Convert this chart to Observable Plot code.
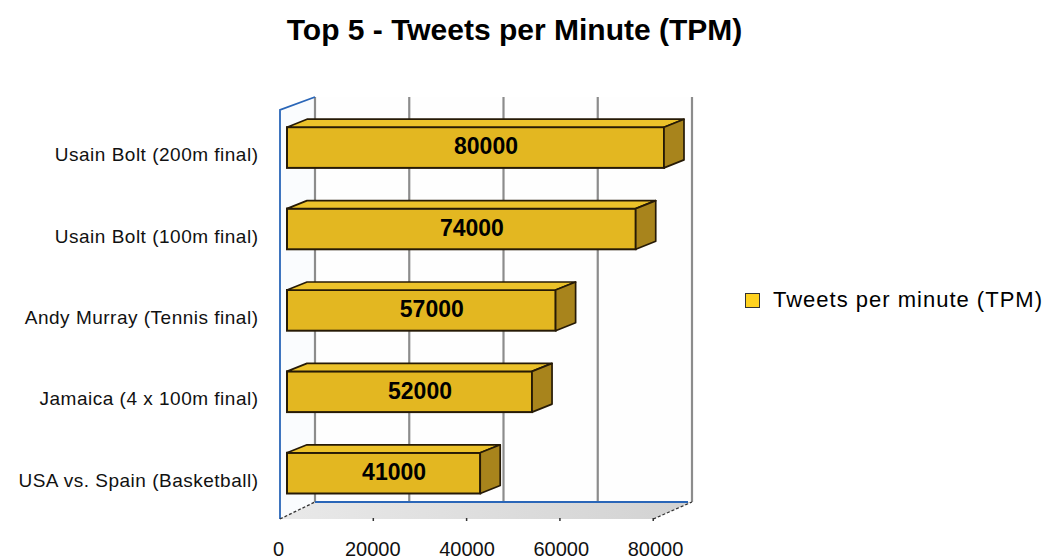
<!DOCTYPE html>
<html>
<head>
<meta charset="utf-8">
<script src="https://cdn.jsdelivr.net/npm/d3@7"></script>
<script src="https://cdn.jsdelivr.net/npm/@observablehq/plot@0.6"></script>
<style>
  body { margin: 0; background: #fff; font-family: "Liberation Sans", Arial, sans-serif; }
  #wrap { position: relative; width: 1058px; height: 559px; overflow: hidden; }
  #chart { position: absolute; left: 0; top: 0; }
  #title { position: absolute; left: 0; width: 1029px; top: 15px; text-align: center;
           font-size: 30px; line-height: 30px; font-weight: bold; color: #000; }
  #legend { position: absolute; left: 745px; top: 289px; display: flex; align-items: center;
            font-size: 22px; line-height: 22px; letter-spacing: 1px; color: #000; }
  #legend .swatch { width: 13px; height: 13px; background: #ffd21f; border: 1px solid #333;
                    margin-right: 13px; }
</style>
</head>
<body>
<div id="wrap">
  <div id="title"></div>
  <div id="chart"></div>
  <div id="legend"></div>
</div>
<script>
// Olympic moments by peak tweets per minute
const events = [
  "Usain Bolt (200m final)",
  "Usain Bolt (100m final)",
  "Andy Murray (Tennis final)",
  "Jamaica (4 x 100m final)",
  "USA vs. Spain (Basketball)"
];
const tpm = [80000, 74000, 57000, 52000, 41000];
const xTicks = [0, 20000, 40000, 60000, 80000];
const seriesName = "Tweets per minute (TPM)";
const titleText = "Top 5 - Tweets per Minute (TPM)";

const rows = events.map((event, i) => ({event, tpm: tpm[i]}));

const colors = {
  front: "#e3b721",
  top: "#ecc22a",
  side: "#a8841c",
  edge: "#261a06",
  grid: "#8c8c8c",
  wall: "#2a66b8"
};

// Box-room geometry: the back wall sits behind the bars, the floor in front.
const room3d = {backDx: 28, wallTop: 97, floorBack: 502, floorFront: 519, leftTop: 110};

function room(index, {x}) {
  const g = d3.create("svg:g");
  const lo = xTicks[0], hi = xTicks[xTicks.length - 1];
  const x0 = x(lo);
  const bx = v => x(v) + room3d.backDx;                       // back-wall plane
  const fx = v => x0 - 7 + (x(v) - x0) * 0.99;                 // floor front edge
  const L = fx(lo);

  // left wall
  g.append("polygon")
    .attr("points", [[L, room3d.leftTop], [bx(lo), room3d.wallTop], [bx(lo), room3d.floorBack], [L, room3d.floorFront]].join(" "))
    .attr("fill", "#fafcfe");
  // back wall
  g.append("rect")
    .attr("x", bx(lo)).attr("y", room3d.wallTop)
    .attr("width", bx(hi) - bx(lo))
    .attr("height", room3d.floorBack - room3d.wallTop)
    .attr("fill", "#fefefe");
  // floor
  const grad = g.append("defs").append("linearGradient")
    .attr("id", "floorShade").attr("x1", 0).attr("y1", 0).attr("x2", 1).attr("y2", 0);
  grad.append("stop").attr("offset", "0").attr("stop-color", "#e9e9e9");
  grad.append("stop").attr("offset", "1").attr("stop-color", "#d2d2d2");
  g.append("polygon")
    .attr("points", [[L, room3d.floorFront], [fx(hi), room3d.floorFront],
                     [bx(hi), room3d.floorBack], [bx(lo), room3d.floorBack]].join(" "))
    .attr("fill", "url(#floorShade)");
  // gridlines on the back wall
  for (const t of xTicks) {
    g.append("line")
      .attr("x1", bx(t)).attr("x2", bx(t))
      .attr("y1", room3d.wallTop).attr("y2", room3d.floorBack)
      .attr("stroke", colors.grid).attr("stroke-width", 2.2);
  }
  // blue wall edges
  g.append("polyline")
    .attr("points", [[L, room3d.floorFront], [L, room3d.leftTop], [bx(lo), room3d.wallTop]].join(" "))
    .attr("fill", "none").attr("stroke", colors.wall).attr("stroke-width", 1.8);
  g.append("line")
    .attr("x1", bx(lo)).attr("x2", bx(hi) - 4)
    .attr("y1", room3d.floorBack).attr("y2", room3d.floorBack)
    .attr("stroke", colors.wall).attr("stroke-width", 2);
  // dashed floor sides
  for (const t of [lo, hi]) {
    g.append("line")
      .attr("x1", fx(t)).attr("y1", room3d.floorFront)
      .attr("x2", bx(t)).attr("y2", room3d.floorBack)
      .attr("stroke", "#333").attr("stroke-width", 1.3).attr("stroke-dasharray", "3 2");
  }
  // small ticks on the floor front edge
  for (const t of xTicks.slice(1)) {
    g.append("line")
      .attr("x1", fx(t)).attr("x2", fx(t))
      .attr("y1", room3d.floorFront - 1).attr("y2", room3d.floorFront + 2)
      .attr("stroke", "#333").attr("stroke-width", 1.5);
  }
  return g.node();
}

// Turns each flat bar into an extruded box (front, top and right faces).
function extrude(index, scales, values, dimensions, context, next) {
  const g = next(index, scales, values, dimensions, context);
  const dx = 20, dy = 8;
  const sel = d3.select(g);
  for (const rect of g.querySelectorAll("rect")) {
    const x = +rect.getAttribute("x"), y = +rect.getAttribute("y");
    const w = +rect.getAttribute("width"), h = +rect.getAttribute("height");
    sel.append("polygon")
      .attr("points", [[x, y], [x + w, y], [x + w + dx, y - dy], [x + dx, y - dy]].join(" "))
      .attr("fill", colors.top).attr("stroke", colors.edge).attr("stroke-width", 1.7)
      .attr("stroke-linejoin", "round");
    sel.append("polygon")
      .attr("points", [[x + w, y], [x + w + dx, y - dy], [x + w + dx, y + h - dy], [x + w, y + h]].join(" "))
      .attr("fill", colors.side).attr("stroke", colors.edge).attr("stroke-width", 1.7)
      .attr("stroke-linejoin", "round");
  }
  return g;
}

function spaced(amount) {
  return (index, scales, values, dimensions, context, next) => {
    const g = next(index, scales, values, dimensions, context);
    g.setAttribute("letter-spacing", amount);
    return g;
  };
}

const chart = Plot.plot({
  width: 1058,
  height: 559,
  marginTop: 0, marginRight: 0, marginBottom: 0, marginLeft: 0,
  style: {fontFamily: "'Liberation Sans', Arial, sans-serif", background: "transparent", overflow: "visible"},
  x: {domain: [0, 80000], range: [287, 664], axis: null},
  y: {domain: events, range: [86.5, 534.2], padding: 0.5, round: false, axis: null},
  marks: [
    room,
    Plot.barX(rows, {
      x: "tpm", y: "event",
      fill: colors.front, stroke: colors.edge, strokeWidth: 2,
      render: extrude
    }),
    Plot.text(rows, {
      x: d => d.tpm / 2, y: "event", text: d => String(d.tpm),
      dx: 10, dy: -1, fontSize: 23, fontWeight: "bold", fill: "#000"
    }),
    Plot.text(events, {
      x: () => 0, y: d => d, text: d => d,
      textAnchor: "end", dx: -29, dy: 7, fontSize: 19, fill: "#111",
      render: spaced(0.5)
    }),
    Plot.text(xTicks, {
      x: d => d, text: d => String(d), frameAnchor: "bottom", lineAnchor: "middle",
      dx: -9, dy: -9.5, fontSize: 20, fill: "#111"
    })
  ]
});

document.getElementById("chart").append(chart);
document.getElementById("title").textContent = titleText;

const legend = document.getElementById("legend");
const sw = document.createElement("span");
sw.className = "swatch";
const label = document.createElement("span");
label.textContent = seriesName;
legend.append(sw, label);
</script>
</body>
</html>
